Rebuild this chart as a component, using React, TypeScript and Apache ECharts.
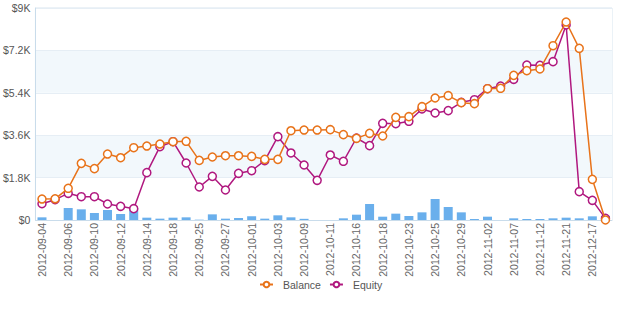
import React, { useEffect, useRef } from "react";
import * as echarts from "echarts";

const categories = [
  "2012-09-04", "2012-09-05", "2012-09-06", "2012-09-07", "2012-09-10", "2012-09-11",
  "2012-09-12", "2012-09-13", "2012-09-14", "2012-09-17", "2012-09-18", "2012-09-19",
  "2012-09-25", "2012-09-26", "2012-09-27", "2012-09-28", "2012-10-01", "2012-10-02",
  "2012-10-03", "2012-10-04", "2012-10-09", "2012-10-10", "2012-10-11", "2012-10-15",
  "2012-10-16", "2012-10-17", "2012-10-18", "2012-10-22", "2012-10-23", "2012-10-24",
  "2012-10-25", "2012-10-26", "2012-10-29", "2012-10-31", "2012-11-02", "2012-11-06",
  "2012-11-07", "2012-11-08", "2012-11-12", "2012-11-13", "2012-11-21", "2012-11-22",
  "2012-12-17", "2012-12-18",
];

const balance = [
  890, 900, 1345, 2405, 2180, 2800, 2645, 3070, 3140, 3225, 3325, 3340,
  2530, 2675, 2730, 2730, 2700, 2575, 2575, 3790, 3820, 3820, 3835, 3623,
  3467, 3679, 3566, 4358, 4387, 4811, 5179, 5278, 4981, 4939, 5575, 5590,
  6140, 6340, 6410, 7400, 8406, 7288, 1726, 0,
];

const equity = [
  693, 863, 1132, 990, 990, 679, 580, 481, 2010, 3113, 3325, 2420,
  1401, 1853, 1274, 1981, 2094, 2519, 3538, 2845, 2335, 1684, 2760, 2491,
  3481, 3156, 4104, 4090, 4189, 4712, 4542, 4642, 4995, 5108, 5575, 5689,
  5972, 6580, 6566, 6722, 8278, 1203, 835, 70,
];

const volume = [
  113, 0, 509, 453, 297, 424, 255, 495, 99, 57, 99, 113,
  14, 240, 57, 85, 156, 57, 198, 113, 50, 0, 0, 71,
  226, 679, 141, 269, 170, 325, 891, 552, 325, 42, 141, 0,
  71, 42, 42, 71, 99, 71, 156, 170,
];

const yTicks = [0, 1800, 3600, 5400, 7200, 9000];

const FONT = "Liberation Sans, Arial, sans-serif";

export default function App() {
  const ref = useRef<HTMLDivElement>(null);

  useEffect(() => {
    if (!ref.current) return;
    const chart = echarts.init(ref.current, undefined, { renderer: "svg" });
    chart.setOption({
      animation: false,
      backgroundColor: "#ffffff",
      textStyle: { fontFamily: FONT },
      grid: {
        left: 34,
        right: 13,
        top: 8,
        bottom: 94,
        show: true,
        borderColor: "#d8e5ef",
        borderWidth: 1,
        backgroundColor: "transparent",
      },
      legend: {
        data: ["Balance", "Equity"],
        top: 279,
        left: 259,
        padding: 0,
        itemWidth: 13,
        itemHeight: 7,
        itemGap: 8,
        textStyle: {
          color: "#555",
          fontSize: 10.5,
          fontFamily: FONT,
          padding: [0, 0, 0, 5],
        },
      },
      xAxis: {
        type: "category",
        data: categories,
        boundaryGap: true,
        axisLine: { lineStyle: { color: "#c9dceb" } },
        axisTick: { show: false },
        axisLabel: {
          rotate: 90,
          interval: 1,
          color: "#666",
          fontSize: 10.5,
          margin: 3,
          fontFamily: FONT,
        },
      },
      yAxis: {
        type: "value",
        min: yTicks[0],
        max: yTicks[yTicks.length - 1],
        interval: 1800,
        axisLine: { show: true, lineStyle: { color: "#c9dceb" } },
        axisTick: { show: false },
        axisLabel: {
          color: "#555",
          fontSize: 10.5,
          margin: 5,
          fontFamily: FONT,
          formatter: (v: number) => (v === 0 ? "$0" : "$" + v / 1000 + "K"),
        },
        splitLine: { show: true, lineStyle: { color: "#e6eef5" } },
        splitArea: { show: true, areaStyle: { color: ["#ffffff", "#f2f8fc"] } },
      },
      series: [
        {
          name: "Volume",
          type: "bar",
          data: volume,
          barWidth: 9,
          itemStyle: { color: "#6aafec" },
          z: 1,
        },
        {
          name: "Balance",
          type: "line",
          data: balance,
          symbol: "circle",
          symbolSize: 8,
          showAllSymbol: true,
          lineStyle: { color: "#e8731a", width: 1.5 },
          itemStyle: { color: "#ffffff", borderColor: "#e8731a", borderWidth: 1.5 },
          z: 3,
        },
        {
          name: "Equity",
          type: "line",
          data: equity,
          symbol: "circle",
          symbolSize: 8,
          showAllSymbol: true,
          lineStyle: { color: "#b0187f", width: 1.5 },
          itemStyle: { color: "#ffffff", borderColor: "#b0187f", borderWidth: 1.5 },
          z: 2,
        },
      ],
    });
    return () => chart.dispose();
  }, []);

  return (
    <div
      ref={ref}
      style={{ position: "absolute", left: 0, top: 0, width: 625, height: 314 }}
    />
  );
}
